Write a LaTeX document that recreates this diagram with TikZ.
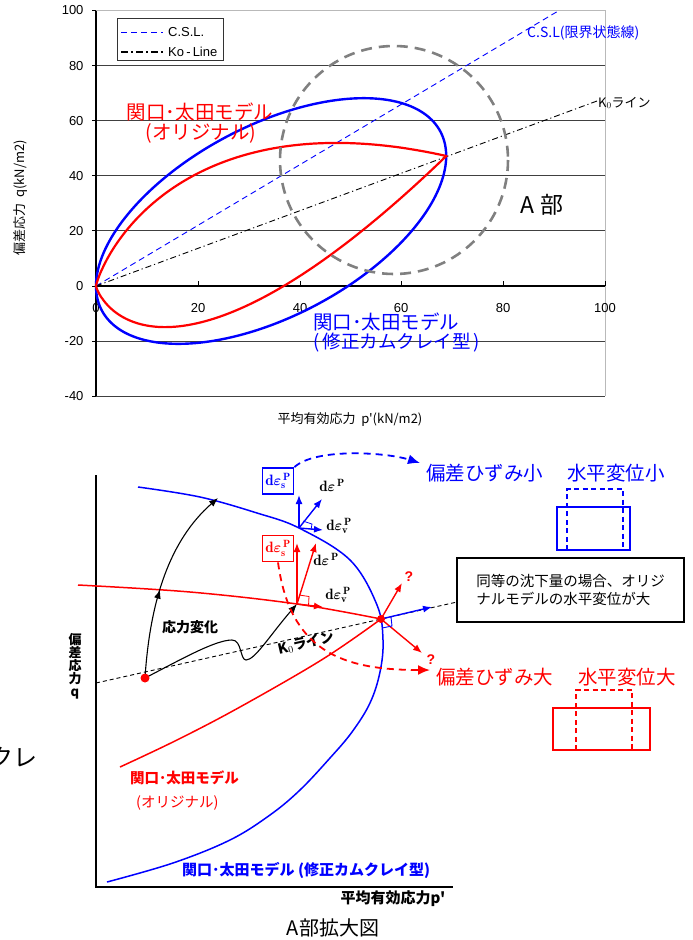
\documentclass[tikz,border=0pt]{standalone}
\usepackage{fontspec}
\usepackage{amsmath}
\newfontfamily\jp{Noto Sans CJK JP}
\newfontfamily\ar{Liberation Sans}
\usetikzlibrary{arrows.meta,decorations.markings}
\newcommand\fsz[1]{\fontsize{#1}{#1}\selectfont}
\newcommand\deps[2]{$\mathbf{d}\boldsymbol{\varepsilon}_{\mathbf{#1}}^{\,\mathbf{#2}}$}
\definecolor{myblue}{RGB}{0,0,255}
\definecolor{myred}{RGB}{255,0,0}
\begin{document}
\begin{tikzpicture}[x=1pt,y=-1pt,
  gl/.style={draw=black!75, line width=1.1},
  tick/.style={font=\ar\fsz{13}},
  tip/.style={-{Latex[length=9pt,width=7pt]}},
  vec/.style={line width=1.4, -{Latex[length=9pt,width=7pt]}},
  epsbox/.style={draw, line width=1.8, inner sep=1pt, minimum width=31pt, minimum height=26pt, text=black, font=\fsz{15}},
  epslab/.style={text=black, inner sep=0pt, font=\fsz{15}},
  q/.style={text=myred, font=\ar\bfseries\fsz{14}, inner sep=0pt}]
\useasboundingbox (0,0) rectangle (693,940);
% ================= top chart =================
\draw[gray!55, line width=1] (96,10.5) -- (605,10.5) -- (605,396.2);
\foreach \yy in {65.6,120.7,175.8,230.9,341.1,396.2}
  \draw[gl] (96,\yy) -- (605,\yy);
\draw[black, line width=1.2] (96,286) -- (605,286);
\foreach \xx in {96,198,300,401,503,605}
  \draw[black, line width=1] (\xx,286) -- (\xx,281);
\draw[black, line width=1.5] (96,10.5) -- (96,396.2);
\foreach \yy/\lab in {10.5/100,65.6/80,120.7/60,175.8/40,230.9/20,286/0,341.1/-20,396.2/-40}{
  \draw[black, line width=1] (92,\yy) -- (96,\yy);
  \node[tick, anchor=east] (yl\lab) at (87,\yy) {\lab};}
\foreach \xx/\lab in {96/0,198/20,300/40,401/60,503/80,605/100}
  \node[tick] (xl\lab) at (\xx,308) {\lab};
\node[rotate=90, font=\jp\fsz{13}] (ytitle) at (21,198) {偏差応力\ \ q(kN/m2)};
\node[font=\jp\fsz{13}] (xtitle) at (350,420) {平均有効応力\ \ p'(kN/m2)};
% CSL and K0 line
\coordinate (O) at (96,286);
\coordinate (cslend) at (559,10.5);
\coordinate (k0end) at (597,101);
\draw[myblue, line width=0.9, dash pattern=on 6pt off 4pt] (O) -- (cslend);
\draw[black, line width=0.9, dash pattern=on 6pt off 3pt on 1.2pt off 3pt] (O) -- (k0end);
\node[anchor=west, font=\jp\fsz{14}, text=myblue, inner sep=0pt] (csllab) at (527,33) {C.S.L(限界状態線)};
\node[anchor=west, font=\jp\fsz{13}, inner sep=0pt] (k0lab) at (598,103) {K$_0$ライン};
% blue (modified) yield surface
\draw[myblue, line width=2.4] plot[domain=0:360, samples=240, variable=\t]
  ({96+350.2*(1-cos(\t))/2}, {286-189.5*(0.686*(1-cos(\t))/2 + 1.1*sin(\t)/2)});
% red (original) yield surface
\draw[myred, line width=2.2] (O) -- plot[domain=0.01:1, samples=200, variable=\u]
  ({96+350.2*\u*\u}, {286-189.5*\u*\u*(0.686 - 2.2*ln(\u))})
  -- plot[domain=1:0.01, samples=200, variable=\u]
  ({96+350.2*\u*\u}, {286-189.5*\u*\u*(0.686 + 2.2*ln(\u))}) -- (O);
% A region
\draw[gray, line width=2.6, dash pattern=on 11pt off 7pt] (394,160) circle[radius=114];
\node[font=\jp\fsz{23}, inner sep=0pt] (Abu) at (542,205) {A 部};
% legend
\draw[black!80, line width=0.9, fill=white] (117,18) rectangle (223,60);
\coordinate (l1a) at (121,32); \coordinate (l1b) at (163,32);
\coordinate (l2a) at (121,52); \coordinate (l2b) at (163,52);
\draw[myblue, line width=0.9, dash pattern=on 6pt off 4pt] (l1a) -- (l1b);
\draw[black, line width=1.8, dash pattern=on 7pt off 3pt on 2pt off 3pt] (l2a) -- (l2b);
\node[anchor=west, font=\ar\fsz{13}, inner sep=0pt] (leg1) at (168,32) {C.S.L.};
\node[anchor=west, font=\ar\fsz{13}, inner sep=0pt] (leg2) at (168,52) {Ko\,-\,Line};
% model labels
\node[font=\jp\fsz{19.5}, text=myred, inner sep=0pt] (rl1) at (200,112) {関口･太田モデル};
\node[font=\jp\fsz{19.5}, text=myred, inner sep=0pt] (rl2) at (201,133) {(オリジナル)};
\node[anchor=west, font=\jp\fsz{19.5}, text=myblue, inner sep=0pt] (bl1) at (313,322) {関口･太田モデル};
\node[anchor=west, font=\jp\fsz{18.5}, text=myblue, inner sep=0pt] (bl2) at (313,343) {(\,修正カムクレイ型\,)};
% ================= bottom diagram =================
\draw[black, line width=2] (96,475) -- (96,887) -- (453,887);
\node[font=\jp\bfseries\fsz{13}, align=center, inner sep=0pt] (qlab) at (75,666)
  {\baselineskip=16.3pt 偏\\差\\応\\力\\q};
\node[font=\jp\bfseries\fsz{15}, inner sep=0pt] (plab) at (393,899) {平均有効応力p'};
\node[font=\jp\fsz{20}, inner sep=0pt] (title) at (333,928) {A部拡大図};
\node[anchor=east, font=\jp\fsz{24}, inner sep=0pt] (cut) at (38,757) {クレ};
% K0 line
\coordinate (k0a) at (96,683);
\coordinate (k0b) at (457,602);
\draw[black, line width=0.9, dash pattern=on 4pt off 3pt] (k0a) -- (k0b);
% blue curve
\draw[myblue, line width=1.5] plot[smooth, tension=0.6] coordinates {
 (138,487) (200,497) (257,513) (299,528) (350,560) (377,605) (383,640) (380,672)
 (370,703) (352,732) (330,758) (300,790) (270,815) (230,840) (173,863) (107,882)};
% red curve
\draw[myred, line width=1.5] plot[smooth, tension=0.6] coordinates {
 (78,585) (190,592) (297,604) (381,619)};
\draw[myred, line width=1.5] plot[smooth, tension=0.6] coordinates {
 (381,619) (323,659) (240,707) (177,740) (120,767)};
% stress paths
\coordinate (S) at (145,678);
\coordinate (Pb) at (218,498);
\coordinate (Pr) at (297,604);
\coordinate (Pb2) at (299,528);
\coordinate (X) at (381,619);
\draw[black, line width=1.1, tip, postaction={decorate},
  decoration={markings, mark=at position 0.45 with {\arrow{Latex[length=9pt,width=7pt]}}}]
  (S) .. controls (150,600) and (170,540) .. (Pb);
\draw[black, line width=1.1, tip] (S) .. controls (180,660) and (215,640) .. (232,640)
  .. controls (242,640) and (240,660) .. (246,660)
  .. controls (255,660) and (270,635) .. (Pr);
\fill[myred] (S) circle[radius=4.5];
\node[font=\jp\bfseries\fsz{14}, inner sep=0pt] (stress) at (190,627) {応力変化};
\node[font=\jp\bfseries\fsz{14}, inner sep=0pt, rotate=13] (k0txt) at (306,643) {K$_0$ライン};
% blue vectors at Pb2
\draw[myblue, vec] (Pb2) -- (299,495);
\draw[myblue, vec] (Pb2) -- (322,499);
\draw[myblue, vec] (Pb2) -- (323,530);
\draw[myblue, line width=0.8] (303,521) -- (312,524) -- (311,530);
\node[epsbox, myblue] (bbox) at (278,481) {\deps{s}{P}};
\node[epslab] (bde) at (332,487) {\deps{}{P}};
\node[epslab] (bdv) at (339,526) {\deps{v}{P}};
% red vectors at Pr
\draw[myred, vec] (Pr) -- (297,543);
\draw[myred, vec] (Pr) -- (316,543);
\draw[myred, vec] (Pr) -- (323,607);
\draw[myred, line width=0.8] (299,595) -- (309,596.5) -- (308.5,606);
\node[epsbox, myred] (rbox) at (278,548.5) {\deps{s}{P}};
\node[epslab] (rde) at (326,561) {\deps{}{P}};
\node[epslab] (rdv) at (338,595) {\deps{v}{P}};
% vectors at X
\draw[myred, vec] (X) -- (402,583);
\draw[myred, vec] (X) -- (422,653);
\draw[myblue, vec] (X) -- (432,607);
\draw[myblue, line width=0.9] (382,628) -- (392,626) -- (391,617);
\fill[myred] (X) circle[radius=4];
\node[q] (q1) at (409,577) {?};
\node[q] (q2) at (431,660) {?};
% dashed curved arrows
\draw[myblue, line width=1.8, dash pattern=on 7pt off 5pt, -{Latex[length=12pt,width=10pt]}]
  (bbox.north east) .. controls (315,448) and (385,452) .. (420,463);
\draw[myred, line width=1.8, dash pattern=on 7pt off 5pt, -{Latex[length=12pt,width=10pt]}]
  (rbox.south) .. controls (290,650) and (340,670) .. (430,670);
\node[anchor=west, font=\jp\fsz{19.5}, text=myblue, inner sep=0pt] (bsmall) at (426,473) {偏差ひずみ小};
\node[anchor=west, font=\jp\fsz{19.5}, text=myblue, inner sep=0pt] (bh) at (567,473) {水平変位小};
\node[anchor=west, font=\jp\fsz{19.5}, text=myred, inner sep=0pt] (rbig) at (436,677) {偏差ひずみ大};
\node[anchor=west, font=\jp\fsz{19.5}, text=myred, inner sep=0pt] (rh) at (578,677) {水平変位大};
% displacement boxes
\draw[myblue, line width=1.8] (557,507) rectangle (630,550);
\draw[myblue, line width=1.8, dash pattern=on 5pt off 3.5pt] (567,550) -- (567,489) -- (623,489) -- (623,550);
\draw[myred, line width=1.6] (553,708) rectangle (650,750);
\draw[myred, line width=1.6, dash pattern=on 5pt off 3.5pt] (576,750) -- (576,690) -- (632,690) -- (632,750);
% note box
\node[draw=black, line width=1.6, fill=white, minimum width=227pt, minimum height=64pt,
  font=\jp\fsz{14.5}, align=left, inner sep=0pt] (note) at (570.5,590)
  {同等の沈下量の場合、オリジ\\[3pt]ナルモデルの水平変位が大};
% model labels bottom
\node[anchor=west, font=\jp\bfseries\fsz{14.5}, text=myred, inner sep=0pt] (rm1) at (130,778) {関口･太田モデル};
\node[anchor=west, font=\jp\fsz{14.5}, text=myred, inner sep=0pt] (rm2) at (136,803) {(オリジナル)};
\node[anchor=west, font=\jp\bfseries\fsz{15}, text=myblue, inner sep=0pt] (bm) at (182,870) {関口･太田モデル (修正カムクレイ型)};
\end{tikzpicture}
\end{document}
